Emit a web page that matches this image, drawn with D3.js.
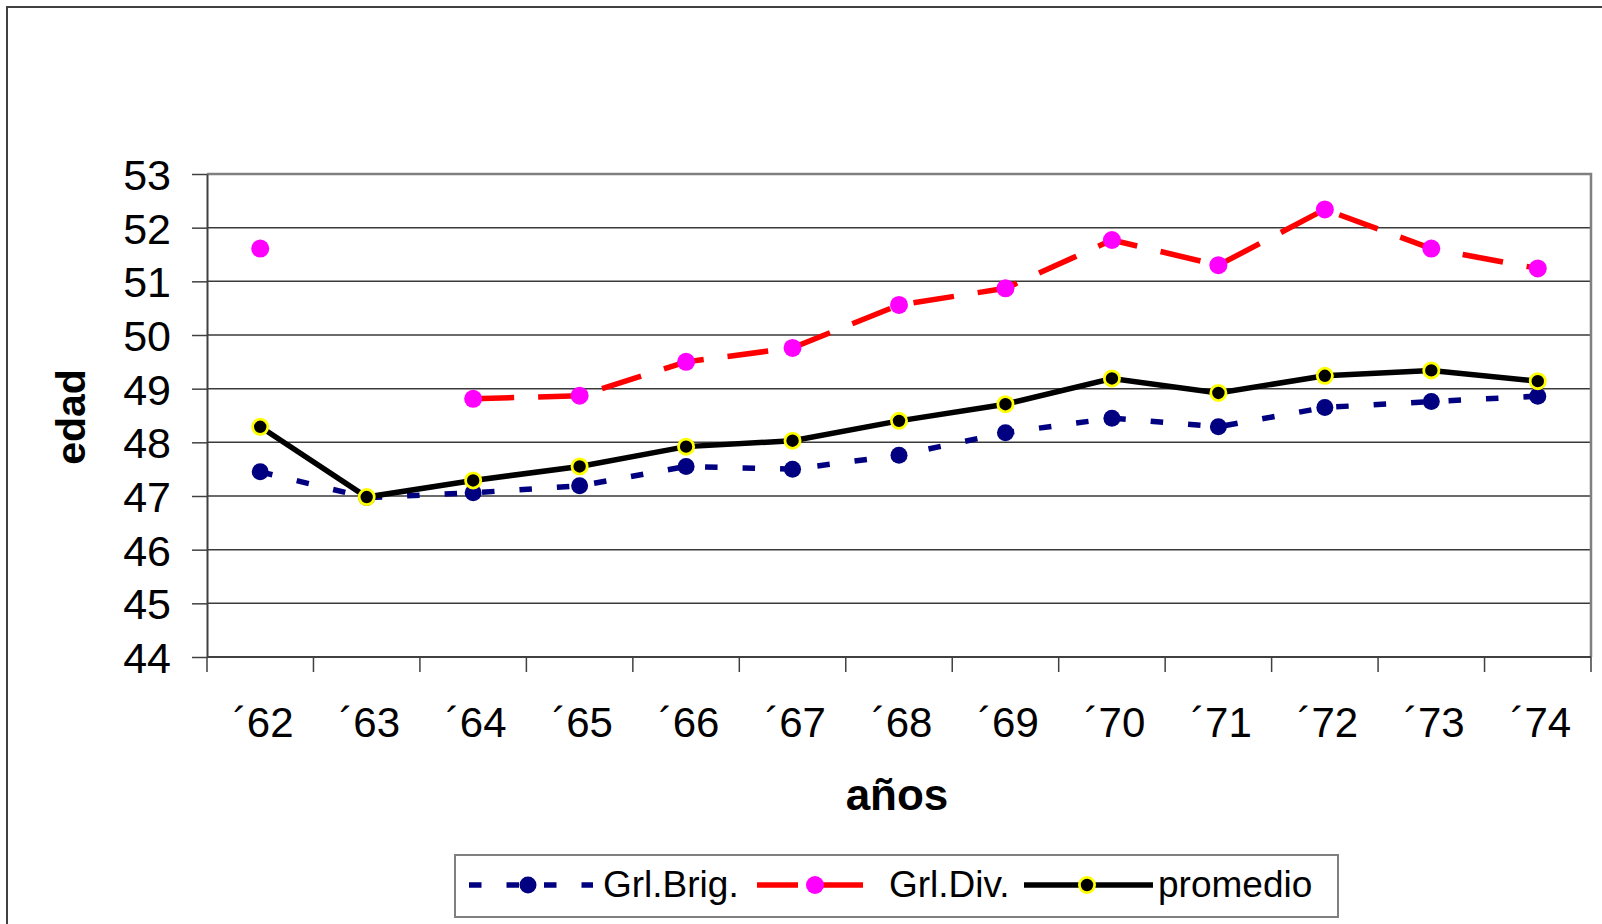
<!DOCTYPE html>
<html>
<head>
<meta charset="utf-8">
<script src="https://cdn.jsdelivr.net/npm/d3@7"></script>
<style>
  html, body { margin: 0; padding: 0; background: #fff; }
  svg { display: block; font-family: "Liberation Sans", Arial, sans-serif; }
</style>
</head>
<body>
<svg id="chart" width="1602" height="924"></svg>
<script>
// ---- data ----
const years = ["´62", "´63", "´64", "´65", "´66", "´67", "´68", "´69", "´70", "´71", "´72", "´73", "´74"];
const grlBrig = [47.45, 46.97, 47.06, 47.19, 47.55, 47.50, 47.76, 48.18, 48.45, 48.29, 48.65, 48.76, 48.86];
const grlDiv  = [51.61, null, 48.81, 48.87, 49.50, 49.76, 50.56, 50.87, 51.77, 51.30, 52.34, 51.61, 51.24];
const promedio = [48.29, 46.98, 47.29, 47.55, 47.92, 48.03, 48.40, 48.71, 49.19, 48.92, 49.24, 49.34, 49.14];
const yTicks = [44, 45, 46, 47, 48, 49, 50, 51, 52, 53];
const seriesNames = ["Grl.Brig.", "Grl.Div.", "promedio"];

// ---- layout ----
const svg = d3.select("#chart");
const plot = { left: 207, right: 1591, top: 174, bottom: 657 };

const x = d3.scaleBand().domain(years).range([plot.left, plot.right]).padding(0);
const y = d3.scaleLinear().domain([44, 53]).range([plot.bottom, plot.top]);
const cx = d => x(d) + x.bandwidth() / 2;

// outer frame
svg.append("rect")
  .attr("x", 7).attr("y", 7).attr("width", 1620).attr("height", 940)
  .attr("fill", "none").attr("stroke", "#404040").attr("stroke-width", 2);

// gridlines
svg.append("g").selectAll("line").data(yTicks.filter(t => t > 44)).join("line")
  .attr("x1", plot.left).attr("x2", plot.right)
  .attr("y1", d => y(d)).attr("y2", d => y(d))
  .attr("stroke", "#3a3a3a").attr("stroke-width", 1.5);

// plot border (top/right gray)
svg.append("path")
  .attr("d", `M${plot.left},${plot.top}H${plot.right}V${plot.bottom}`)
  .attr("fill", "none").attr("stroke", "#808080").attr("stroke-width", 2.5);

// y axis
const yAxis = svg.append("g")
  .attr("transform", `translate(${plot.left},0)`)
  .call(d3.axisLeft(y).tickValues(yTicks).tickSize(15).tickSizeOuter(0).tickPadding(21).tickFormat(d3.format("d")));
yAxis.select(".domain").attr("stroke", "#404040").attr("stroke-width", 2);
yAxis.selectAll(".tick line").attr("stroke", "#404040").attr("stroke-width", 1.5);
yAxis.selectAll(".tick text")
  .attr("font-size", 43).attr("fill", "#000")
  .attr("font-family", "'Liberation Sans', Arial, sans-serif")
  .attr("dy", "0.36em");

// x axis (ticks at category boundaries)
const xAxisG = svg.append("g").attr("transform", `translate(0,${plot.bottom})`);
xAxisG.append("line")
  .attr("x1", plot.left).attr("x2", plot.right)
  .attr("stroke", "#404040").attr("stroke-width", 2);
const bounds = years.map(d => x(d)).concat([plot.right]);
xAxisG.selectAll("line.tk").data(bounds).join("line").attr("class", "tk")
  .attr("x1", d => d).attr("x2", d => d).attr("y1", 0).attr("y2", 15)
  .attr("stroke", "#404040").attr("stroke-width", 1.5);
xAxisG.selectAll("text").data(years).join("text")
  .attr("x", d => cx(d) + 3).attr("y", 80)
  .attr("text-anchor", "middle").attr("font-size", 42).attr("fill", "#000")
  .text(d => d);

// axis titles
svg.append("text")
  .attr("transform", "translate(85,417) rotate(-90)")
  .attr("text-anchor", "middle").attr("font-size", 41).attr("font-weight", "bold")
  .text("edad");
svg.append("text")
  .attr("x", 897).attr("y", 810)
  .attr("text-anchor", "middle").attr("font-size", 44).attr("font-weight", "bold")
  .text("años");

// ---- series ----
const lineGen = d3.line()
  .defined(d => d.v !== null)
  .x(d => cx(d.k)).y(d => y(d.v));

function pts(arr) { return years.map((k, i) => ({ k, v: arr[i] })); }

const series = [
  { name: seriesNames[0], data: grlBrig, stroke: "#000080", dash: "12.5,25", width: 5.5, mfill: "#000080", mstroke: "none", mw: 0, r: 8.5 },
  { name: seriesNames[1], data: grlDiv, stroke: "#ff0000", dash: "41,24", width: 5.5, mfill: "#ff00ff", mstroke: "none", mw: 0, r: 9 },
  { name: seriesNames[2], data: promedio, stroke: "#000000", dash: null, width: 5.5, mfill: "#000000", mstroke: "#ffff00", mw: 2.8, r: 7.6 }
];

series.forEach(s => {
  const g = svg.append("g");
  g.append("path").datum(pts(s.data))
    .attr("d", lineGen)
    .attr("fill", "none").attr("stroke", s.stroke).attr("stroke-width", s.width)
    .attr("stroke-dasharray", s.dash);
  g.selectAll("circle").data(pts(s.data).filter(d => d.v !== null)).join("circle")
    .attr("cx", d => cx(d.k)).attr("cy", d => y(d.v)).attr("r", s.r)
    .attr("fill", s.mfill).attr("stroke", s.mstroke).attr("stroke-width", s.mw);
});

// ---- legend ----
const leg = svg.append("g");
leg.append("rect")
  .attr("x", 455).attr("y", 855).attr("width", 883).attr("height", 62)
  .attr("fill", "#fff").attr("stroke", "#808080").attr("stroke-width", 2);
const legItems = [
  { s: series[0], x1: 469, x2: 593, mx: 528, tx: 603 },
  { s: series[1], x1: 757, x2: 865, mx: 815, tx: 889 },
  { s: series[2], x1: 1024, x2: 1153, mx: 1087, tx: 1158 }
];
legItems.forEach(it => {
  leg.append("line")
    .attr("x1", it.x1).attr("x2", it.x2).attr("y1", 885).attr("y2", 885)
    .attr("stroke", it.s.stroke).attr("stroke-width", it.s.width)
    .attr("stroke-dasharray", it.s.dash);
  leg.append("circle")
    .attr("cx", it.mx).attr("cy", 885).attr("r", it.s.r)
    .attr("fill", it.s.mfill).attr("stroke", it.s.mstroke).attr("stroke-width", it.s.mw);
  leg.append("text")
    .attr("x", it.tx).attr("y", 897)
    .attr("font-size", 37).attr("fill", "#000")
    .text(it.s.name);
});
</script>
</body>
</html>
